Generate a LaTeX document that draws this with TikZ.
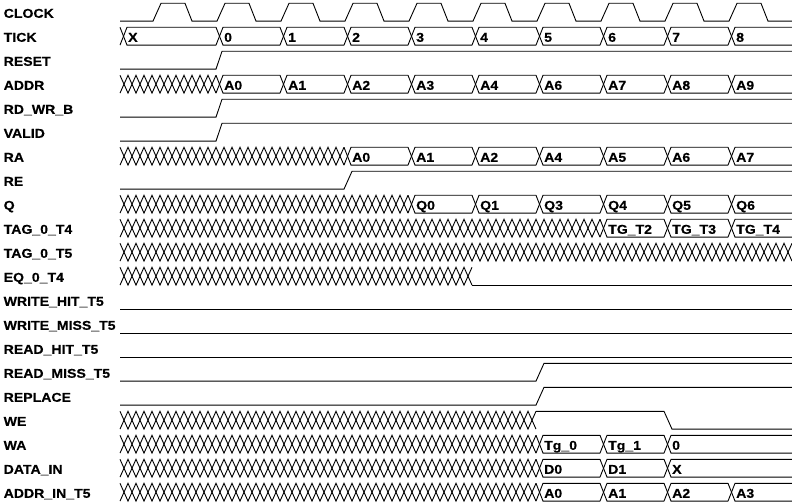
\documentclass[tikz,border=0pt]{standalone}
\usepackage{fontspec}
\newfontfamily\lbl{Liberation Sans}[FakeStretch=1.1,FakeBold=0.4]
\newcommand\wvrow[1]{\pgfmathsetmacro\wvT{3.3+24*#1}\pgfmathsetmacro\wvB{\wvT+17.8}}
% X (unknown) pattern on row #1 from #2 to #3
\newcommand\wvx[3]{\wvrow{#1}\pgfmathtruncatemacro\wvN{(#3-#2)/16}%
  \draw[sig] (#2,\wvT) \foreach \k in {1,...,\wvN}{ -- ({#2+16*\k-8},\wvB) -- ({#2+16*\k},\wvT)};
  \draw[sig] (#2,\wvB) \foreach \k in {1,...,\wvN}{ -- ({#2+16*\k-8},\wvT) -- ({#2+16*\k},\wvB)};}
% bus value: name, row, start, end, text
\newcommand\wvbus[5]{\wvrow{#2}%
  \draw[sig] (#3,\wvT) -- ({#3+7},\wvB) -- (#4,\wvB);
  \draw[sig] (#3,\wvB) -- ({#3+7},\wvT) -- (#4,\wvT);
  \node[lab] (#1) at ({#3+8},{\wvT+14.5}) {#5};}
\begin{document}
\begin{tikzpicture}[x=1bp,y=-1bp,
  sig/.style={draw=black, line width=0.9bp, line join=miter},
  lab/.style={anchor=base west, inner sep=0, font=\lbl\bfseries\fontsize{12.8bp}{14bp}\selectfont}]
\useasboundingbox (0,0) rectangle (792,504);
\fill[white] (0,0) rectangle (792,504);
% signal names
\foreach \n/\t in {0/CLOCK,1/TICK,2/RESET,3/ADDR,4/RD\_WR\_B,5/VALID,6/RA,7/RE,8/Q,
  9/TAG\_0\_T4,10/TAG\_0\_T5,11/EQ\_0\_T4,12/WRITE\_HIT\_T5,13/WRITE\_MISS\_T5,
  14/READ\_HIT\_T5,15/READ\_MISS\_T5,16/REPLACE,17/WE,18/WA,19/DATA\_IN,20/ADDR\_IN\_T5}
  {\node[lab] (name\n) at (3.5,{3.3+24*\n+14.5}) {\t};}
% CLOCK
\wvrow{0}
\draw[sig] (120,\wvB) \foreach \k in {0,...,9}{ -- ({153+64*\k},\wvB) -- ({161+64*\k},\wvT) -- ({185+64*\k},\wvT) -- ({192+64*\k},\wvB)} -- (792,\wvB);
% TICK
\wvbus{tickX}{1}{120}{216}{X}
\foreach \i in {0,...,8}{\wvbus{tick\i}{1}{216+64*\i}{280+64*\i}{\i}}
% RESET, RD_WR_B, VALID
\foreach \r in {2,4,5}{\wvrow{\r}\draw[sig] (120,\wvB) -- (216,\wvB) -- (222,\wvT) -- (792,\wvT);}
% ADDR
\wvx{3}{120}{216}
\foreach \i/\v in {0/A0,1/A1,2/A2,3/A3,4/A4,5/A6,6/A7,7/A8,8/A9}{\wvbus{addr\i}{3}{216+64*\i}{280+64*\i}{\v}}
% RA
\wvx{6}{120}{344}
\foreach \i/\v in {0/A0,1/A1,2/A2,3/A4,4/A5,5/A6,6/A7}{\wvbus{ra\i}{6}{344+64*\i}{408+64*\i}{\v}}
% RE
\wvrow{7}\draw[sig] (120,\wvB) -- (344,\wvB) -- (352,\wvT) -- (792,\wvT);
% Q
\wvx{8}{120}{408}
\foreach \i/\v in {0/Q0,1/Q1,2/Q3,3/Q4,4/Q5,5/Q6}{\wvbus{q\i}{8}{408+64*\i}{472+64*\i}{\v}}
% TAG_0_T4
\wvx{9}{120}{600}
\foreach \i/\v in {0/TG\_T2,1/TG\_T3,2/TG\_T4}{\wvbus{tag\i}{9}{600+64*\i}{664+64*\i}{\v}}
% TAG_0_T5
\wvx{10}{120}{792}
% EQ_0_T4
\wvx{11}{120}{472}
\wvrow{11}\draw[sig] (472,\wvB) -- (792,\wvB);
% WRITE_HIT, WRITE_MISS, READ_HIT
\foreach \r in {12,13,14}{\wvrow{\r}\draw[sig] (120,\wvB) -- (792,\wvB);}
% READ_MISS, REPLACE
\foreach \r in {15,16}{\wvrow{\r}\draw[sig] (120,\wvB) -- (536,\wvB) -- (544,\wvT) -- (792,\wvT);}
% WE
\wvx{17}{120}{536}
\wvrow{17}\draw[sig] (536,\wvT) -- (664,\wvT) -- (672,\wvB) -- (792,\wvB);
% WA
\wvx{18}{120}{536}
\wvbus{wa0}{18}{536}{600}{Tg\_0}
\wvbus{wa1}{18}{600}{664}{Tg\_1}
\wvbus{wa2}{18}{664}{792}{0}
% DATA_IN
\wvx{19}{120}{536}
\wvbus{din0}{19}{536}{600}{D0}
\wvbus{din1}{19}{600}{664}{D1}
\wvbus{din2}{19}{664}{792}{X}
% ADDR_IN_T5
\wvx{20}{120}{536}
\foreach \i/\v in {0/A0,1/A1,2/A2,3/A3}{\wvbus{ain\i}{20}{536+64*\i}{600+64*\i}{\v}}
\end{tikzpicture}
\end{document}
